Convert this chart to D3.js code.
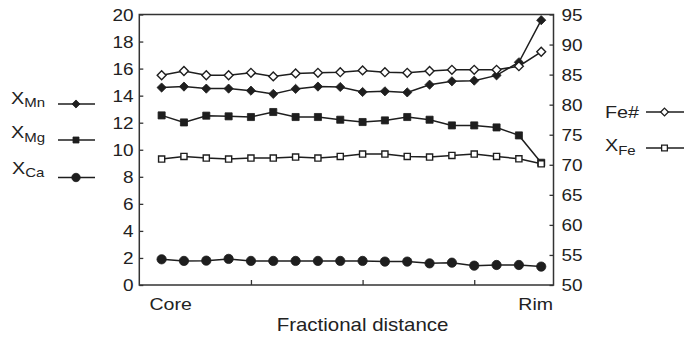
<!DOCTYPE html>
<html>
<head>
<meta charset="utf-8">
<script src="https://cdn.jsdelivr.net/npm/d3@7"></script>
<style>
  body { margin: 0; background: #fff; }
  svg { display: block; }
  text { font-family: "Liberation Sans", Arial, sans-serif; fill: #222; }
</style>
</head>
<body>
<svg id="chart" width="684" height="337"></svg>
<script>
// point index along the profile, core -> rim
const positions = d3.range(18);

// left axis (mole fraction x 100)
const xMn = [14.6, 14.67, 14.52, 14.52, 14.37, 14.13, 14.5, 14.67, 14.64, 14.27, 14.32, 14.24, 14.81, 15.06, 15.11, 15.5, 16.47, 19.58];
const xMg = [12.54, 12.02, 12.52, 12.47, 12.42, 12.79, 12.42, 12.42, 12.22, 12.05, 12.17, 12.42, 12.22, 11.8, 11.8, 11.65, 11.06, 9.04];
const xCa = [1.9, 1.78, 1.8, 1.93, 1.78, 1.78, 1.78, 1.78, 1.78, 1.78, 1.73, 1.73, 1.6, 1.65, 1.43, 1.48, 1.48, 1.36];

// right axis
const feNum = [84.9, 85.6, 84.9, 84.9, 85.3, 84.7, 85.2, 85.3, 85.4, 85.7, 85.4, 85.3, 85.6, 85.8, 85.8, 85.8, 86.4, 88.8];
const xFe = [70.95, 71.38, 71.12, 70.95, 71.12, 71.12, 71.28, 71.12, 71.38, 71.78, 71.78, 71.38, 71.28, 71.55, 71.78, 71.38, 71.0, 70.17];

const leftTicks = d3.range(0, 21, 2);
const rightTicks = d3.range(50, 96, 5);
const bottomTicks = [4, 9, 14];

const ink = "#1e1e1e";
const SX = 1.15; // the figure text is a bit stretched horizontally

const svg = d3.select("#chart");

const x = d3.scaleLinear().domain([-1, 17.55]).range([139.3, 553.5]);
const yL = d3.scaleLinear().domain([0, 20]).range([285, 14.5]);
const yR = d3.scaleLinear().domain([50, 95]).range([285, 14.5]);

const stretched = (g, px, py, sx = SX) =>
  g.append("text").attr("transform", `translate(${px},${py}) scale(${sx},1)`);

// frame
svg.append("rect")
  .attr("x", x.range()[0])
  .attr("y", yL.range()[1])
  .attr("width", x.range()[1] - x.range()[0])
  .attr("height", yL.range()[0] - yL.range()[1])
  .attr("fill", "none")
  .attr("stroke", "#333")
  .attr("stroke-width", 1.5);

// axes with inward ticks
const styleAxis = g => {
  g.select(".domain").remove();
  g.selectAll(".tick line").attr("stroke", "#333").attr("stroke-width", 1.3);
  g.selectAll(".tick text").remove();
};

svg.append("g")
  .attr("transform", `translate(${x.range()[0]},0)`)
  .call(d3.axisRight(yL).tickValues(leftTicks).tickSize(4))
  .call(styleAxis);

svg.append("g")
  .attr("transform", `translate(${x.range()[1]},0)`)
  .call(d3.axisLeft(yR).tickValues(rightTicks).tickSize(4))
  .call(styleAxis);

svg.append("g")
  .attr("transform", `translate(0,${yL.range()[0]})`)
  .call(d3.axisTop(x).tickValues(bottomTicks).tickSize(5))
  .call(styleAxis);

// tick labels
const tl = svg.append("g").attr("font-size", 16.5);
leftTicks.forEach(v => {
  stretched(tl, 133.5, yL(v) + 6).attr("text-anchor", "end").text(v);
});
rightTicks.forEach(v => {
  stretched(tl, 561.5, yR(v) + 6).attr("text-anchor", "start").text(v);
});

stretched(svg, 149.5, 310).attr("font-size", 17).text("Core");
stretched(svg, 553, 309.5).attr("font-size", 17).attr("text-anchor", "end").text("Rim");
stretched(svg, 362.5, 331, 1.17).attr("font-size", 17.5).attr("text-anchor", "middle").text("Fractional distance");

// markers
const diamond = d3.symbol().type(d3.symbolDiamond2);
const square = d3.symbol().type(d3.symbolSquare2);
const circle = d3.symbol().type(d3.symbolCircle);
const series = [
  { values: xMn, y: yL, shape: diamond, size: 54, fill: ink },
  { values: xMg, y: yL, shape: square, size: 64, fill: ink },
  { values: xCa, y: yL, shape: circle, size: 68, fill: ink },
  { values: feNum, y: yR, shape: diamond, size: 50, fill: "#fff" },
  { values: xFe, y: yR, shape: square, size: 48, fill: "#fff" }
];

const line = yScale => d3.line().x((d, i) => x(positions[i])).y(d => yScale(d));

const groups = svg.selectAll("g.series").data(series).enter().append("g").attr("class", "series");

groups.append("path")
  .attr("d", s => line(s.y)(s.values))
  .attr("fill", "none")
  .attr("stroke", ink)
  .attr("stroke-width", 1.5);

groups.each(function (s) {
  d3.select(this).selectAll("path.m")
    .data(s.values)
    .enter()
    .append("path")
    .attr("class", "m")
    .attr("transform", (d, i) => `translate(${x(positions[i])},${s.y(d)})`)
    .attr("d", s.shape.size(s.size)())
    .attr("fill", s.fill)
    .attr("stroke", ink)
    .attr("stroke-width", s.fill === "#fff" ? 1.4 : 0.8);
});

// legends
const legendItems = [
  { main: "X", sub: "Mn", tx: 11, ty: 103.5, ly: 104, x0: 58, x1: 95, shape: diamond, size: 42, fill: ink },
  { main: "X", sub: "Mg", tx: 11, ty: 138, ly: 140, x0: 58, x1: 95, shape: square, size: 46, fill: ink },
  { main: "X", sub: "Ca", tx: 12, ty: 173.5, ly: 177.5, x0: 58, x1: 95, shape: circle, size: 56, fill: ink },
  { main: "Fe#", sub: "", tx: 605, ty: 117.8, ly: 112, x0: 646, x1: 684, shape: diamond, size: 38, fill: "#fff" },
  { main: "X", sub: "Fe", tx: 605, ty: 151, ly: 148, x0: 646, x1: 684, shape: square, size: 42, fill: "#fff" }
];

const lg = svg.selectAll("g.legend").data(legendItems).enter().append("g").attr("class", "legend");

lg.each(function (d) {
  const g = d3.select(this);
  const t = stretched(g, d.tx, d.ty, 1.2).attr("font-size", 16.5);
  t.append("tspan").text(d.main);
  if (d.sub) t.append("tspan").attr("font-size", 12.5).attr("dy", 3.5).text(d.sub);
  g.append("line")
    .attr("x1", d.x0).attr("x2", d.x1)
    .attr("y1", d.ly).attr("y2", d.ly)
    .attr("stroke", ink).attr("stroke-width", 1.5);
  g.append("path")
    .attr("transform", `translate(${(d.x0 + d.x1) / 2 - 0.5},${d.ly})`)
    .attr("d", d.shape.size(d.size)())
    .attr("fill", d.fill)
    .attr("stroke", ink)
    .attr("stroke-width", d.fill === "#fff" ? 1.3 : 0.8);
});
</script>
</body>
</html>
